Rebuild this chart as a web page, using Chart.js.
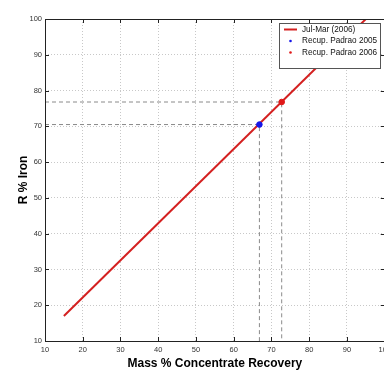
<!DOCTYPE html>
<html>
<head>
<meta charset="utf-8">
<script src="https://cdn.jsdelivr.net/npm/chart.js@4/dist/chart.umd.min.js"></script>
<style>
html, body { margin: 0; padding: 0; background: #fff; overflow: hidden; }
#wrap { width: 384px; height: 371px; overflow: hidden; }
#box { width: 395px; height: 371px; position: relative; }
</style>
</head>
<body>
<div id="wrap"><div id="box"><canvas id="c"></canvas></div></div>
<script>
// fitted line Jul-Mar (2006): mass recovery (x) vs iron recovery (y)
var lineX = [15, 95];
var lineY = [17, 100];
// standard recovery points
var pad2005 = { x: 66.8, y: 70.5 };
var pad2006 = { x: 72.7, y: 76.8 };
var seriesNames = ["Jul-Mar (2006)", "Recup. Padrao 2005", "Recup. Padrao 2006"];
var xRange = [10, 100];
var yRange = [10, 100];

var lineData = lineX.map(function (v, i) { return { x: v, y: lineY[i] }; });

function guide(p) {
    return [{ x: xRange[0], y: p.y }, { x: p.x, y: p.y }, { x: p.x, y: yRange[0] }];
}

var guideStyle = {
    borderColor: "#8a8a8a",
    borderWidth: 1,
    borderDash: [4, 3],
    pointRadius: 0,
    fill: false,
    tension: 0
};

// draws the matlab style box, inward ticks and legend
var matlabFrame = {
    id: "matlabFrame",
    afterDraw: function (chart) {
        var ctx = chart.ctx, a = chart.chartArea;
        var xs = chart.scales.x, ys = chart.scales.y;
        ctx.save();
        ctx.strokeStyle = "#222";
        ctx.lineWidth = 1;
        ctx.setLineDash([]);
        ctx.strokeRect(a.left + 0.5, a.top + 0.5, a.right - a.left, a.bottom - a.top);
        ctx.beginPath();
        xs.ticks.forEach(function (t) {
            var px = Math.round(xs.getPixelForValue(t.value)) + 0.5;
            ctx.moveTo(px, a.bottom); ctx.lineTo(px, a.bottom - 4);
            ctx.moveTo(px, a.top); ctx.lineTo(px, a.top + 4);
        });
        ys.ticks.forEach(function (t) {
            var py = Math.round(ys.getPixelForValue(t.value)) + 0.5;
            ctx.moveTo(a.left, py); ctx.lineTo(a.left + 4, py);
            ctx.moveTo(a.right, py); ctx.lineTo(a.right - 4, py);
        });
        ctx.stroke();

        // legend box
        var lx = 279, ly = 23, lw = 101, lh = 45;
        ctx.fillStyle = "#fff";
        ctx.fillRect(lx, ly, lw, lh);
        ctx.strokeStyle = "#555";
        ctx.strokeRect(lx + 0.5, ly + 0.5, lw, lh);
        ctx.font = "8.2px 'Liberation Sans', Arial, sans-serif";
        ctx.textBaseline = "middle";
        ctx.fillStyle = "#111";
        var rows = [29.5, 41, 52.5];
        seriesNames.forEach(function (name, i) {
            var ds = chart.data.datasets.find(function (d) { return d.label === name; });
            var ry = rows[i];
            if (i === 0) {
                ctx.strokeStyle = ds.borderColor;
                ctx.lineWidth = 2;
                ctx.beginPath();
                ctx.moveTo(284, ry); ctx.lineTo(297, ry);
                ctx.stroke();
            } else {
                ctx.fillStyle = ds.backgroundColor;
                ctx.beginPath();
                ctx.arc(290.5, ry, 1.3, 0, Math.PI * 2);
                ctx.fill();
            }
            ctx.fillStyle = "#111";
            ctx.fillText(name, 302, ry);
        });
        ctx.restore();
    }
};

var tickFont = { family: "'Liberation Sans', Arial, sans-serif", size: 7.5 };
var titleFont = { family: "'Liberation Sans', Arial, sans-serif", size: 12, weight: "bold" };

new Chart(document.getElementById("c"), {
    type: "line",
    data: {
        datasets: [
            { label: seriesNames[1], data: [pad2005], showLine: false,
                pointRadius: 2.8, pointBackgroundColor: "#1616e8", pointBorderColor: "#1616e8",
                backgroundColor: "#1616e8" },
            { label: seriesNames[2], data: [pad2006], showLine: false,
                pointRadius: 2.8, pointBackgroundColor: "#e01818", pointBorderColor: "#e01818",
                backgroundColor: "#e01818" },
            { label: seriesNames[0], data: lineData, borderColor: "#d42020", borderWidth: 2,
                pointRadius: 0, fill: false, tension: 0 },
            Object.assign({ label: "g2005", data: guide(pad2005) }, guideStyle),
            Object.assign({ label: "g2006", data: guide(pad2006) }, guideStyle)
        ]
    },
    options: {
        responsive: true,
        maintainAspectRatio: false,
        animation: false,
        layout: { padding: { top: 19, right: 0, left: 0, bottom: 0 } },
        plugins: { legend: { display: false }, tooltip: { enabled: false } },
        scales: {
            x: {
                type: "linear",
                min: xRange[0], max: xRange[1],
                ticks: { stepSize: 10, font: tickFont, color: "#333", padding: 4, maxRotation: 0 },
                grid: { color: "#c8c8c8", lineWidth: 1, drawTicks: false },
                border: { display: false, dash: [1, 2] },
                title: { display: true, text: "Mass % Concentrate Recovery", font: titleFont, color: "#000", padding: { top: 6, bottom: 0 } },
                afterFit: function (s) { s.height = 30; }
            },
            y: {
                type: "linear",
                min: yRange[0], max: yRange[1],
                ticks: { stepSize: 10, font: tickFont, color: "#333", padding: 3 },
                grid: { color: "#c8c8c8", lineWidth: 1, drawTicks: false },
                border: { display: false, dash: [1, 2] },
                title: { display: true, text: "R % Iron", font: titleFont, color: "#000", padding: { top: 16, bottom: 0 } },
                afterFit: function (s) { s.width = 45; }
            }
        }
    },
    plugins: [matlabFrame]
});
</script>
</body>
</html>
